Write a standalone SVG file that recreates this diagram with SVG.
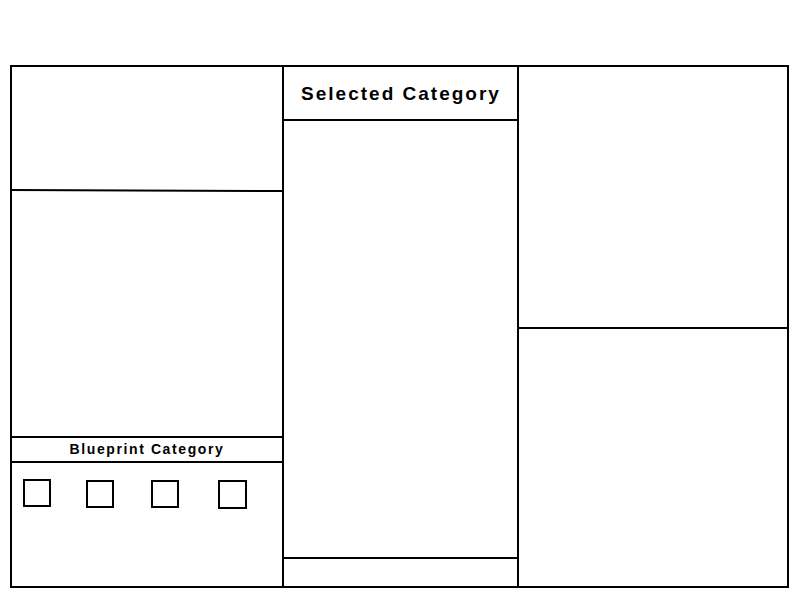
<svg xmlns="http://www.w3.org/2000/svg" width="800" height="600" viewBox="0 0 800 600">
<style>
.b{fill:#fff;stroke:#000;stroke-width:2}
.l{stroke:#000;stroke-width:2;fill:none}
.t{font-family:"Liberation Sans",Arial,sans-serif;font-weight:bold;fill:#000;text-anchor:middle}
</style>
<rect width="800" height="600" fill="#fff"/>
<g id="left-panel">
<rect class="b" x="11" y="66" width="272" height="521"/>
<line class="l" x1="11" y1="190" x2="283" y2="191"/>
</g>
<g id="blueprint-category">
<line class="l" x1="11" y1="437" x2="283" y2="437"/>
<line class="l" x1="11" y1="462" x2="283" y2="462"/>
<text class="t" x="147" y="454" font-size="14" letter-spacing="1.6">Blueprint Category</text>
<rect class="b" x="24" y="480" width="26" height="26"/>
<rect class="b" x="87" y="481" width="26" height="26"/>
<rect class="b" x="152" y="481" width="26" height="26"/>
<rect class="b" x="219" y="481" width="27" height="27"/>
</g>
<g id="selected-category">
<rect class="b" x="283" y="66" width="235" height="521"/>
<line class="l" x1="283" y1="120" x2="518" y2="120"/>
<line class="l" x1="283" y1="558" x2="518" y2="558"/>
<text class="t" x="401" y="100" font-size="19" letter-spacing="2">Selected Category</text>
</g>
<g id="right-panel">
<rect class="b" x="518" y="66" width="270" height="521"/>
<line class="l" x1="518" y1="328" x2="788" y2="328"/>
</g>
<g id="connectors"></g>
</svg>
